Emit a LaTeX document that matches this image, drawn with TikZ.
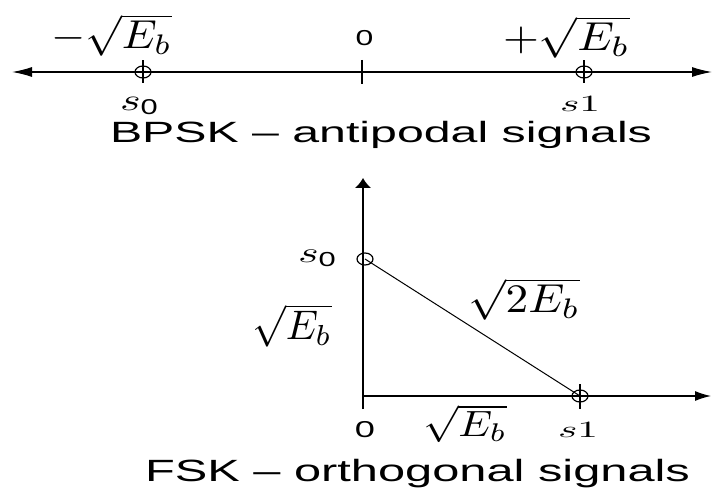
\documentclass[tikz,border=0pt]{standalone}
\usepackage{fontspec}
\setsansfont{Liberation Sans}
\usetikzlibrary{arrows.meta,shapes.geometric}
\newsavebox\lblbox
% name, x, y, width, total height, content (math labels, centred on their ink box)
\newcommand{\fitlabel}[6]{%
  \node[lbl] (#1m) at (#2,#3) {\global\setbox\lblbox\hbox{#6}};%
  \pgfmathsetmacro{\lblsx}{#4/\wd\lblbox}%
  \pgfmathsetmacro{\lblsy}{#5/(\ht\lblbox+\dp\lblbox)}%
  \node[lbl,xscale=\lblsx,yscale=\lblsy,transform shape] (#1) at (#2,#3) {\usebox\lblbox};}
% sans text: name, x (left), baseline y, width, cap height, content
\newcommand{\fitcap}[6]{%
  \node[lbl] (#1m) at (#2,#3) {\global\setbox\lblbox\hbox{#6}};%
  \pgfmathsetmacro{\lblsx}{#4/\wd\lblbox}%
  \pgfmathsetmacro{\lblsy}{#5/7.16}%
  \node[lbl,anchor=base west,xscale=\lblsx,yscale=\lblsy,transform shape] (#1) at (#2,#3) {\usebox\lblbox};}
% sans digit 0: name, centre x, baseline y, ink width, ink height
\newcommand{\fitzero}[5]{%
  \pgfmathsetmacro{\lblsx}{#4/4.7}%
  \pgfmathsetmacro{\lblsy}{#5/7.4}%
  \node[lbl,anchor=base,xscale=\lblsx,yscale=\lblsy,transform shape] (#1) at (#2,#3) {\sffamily 0};}
\begin{document}
\begin{tikzpicture}[x=1pt,y=-1pt,
  lbl/.style={inner sep=0pt,outer sep=0pt},
  haxis/.style={line width=1.3pt},
  vaxis/.style={line width=2pt},
  diag/.style={line width=1pt},
  pt/.style={ellipse,draw,line width=1.2pt,minimum width=16pt,minimum height=12pt,inner sep=0pt},
  tickline/.style={line width=1.6pt}]
\useasboundingbox (0,0) rectangle (715,489);
% ---------- BPSK ----------
\coordinate (L) at (12,72);
\coordinate (R) at (712,72);
\coordinate (Z) at (362,72);
\node[pt] (a0) at (143,72) {};
\node[pt] (a1) at (584,72) {};
\draw[haxis,{Latex[length=20pt,width=10pt]}-{Latex[length=20pt,width=10pt]}] (L) -- (R);
\draw[tickline] (a0.center) ++(0,-11.5) -- ++(0,23);
\draw[tickline] (a1.center) ++(0,-11.5) -- ++(0,23);
\draw[tickline] (Z) ++(0,-12) -- ++(0,24);
\fitlabel{tm}{111.5}{35}{121}{42}{$-\sqrt{E_b}$}
\fitzero{t0}{364.5}{46}{15}{16}
\fitlabel{tp}{566.5}{37}{127}{42}{$+\sqrt{E_b}$}
\fitlabel{ts0}{140}{106}{40}{18}{$s_{\mathsf{0}}$}
\fitlabel{ts1}{580}{104.5}{40}{15}{$s1$}
\fitcap{cap1}{110}{143}{542}{21}{\sffamily BPSK – antipodal signals}
% ---------- FSK ----------
\coordinate (O) at (363,396);
\coordinate (Ob) at (363,409);
\coordinate (T) at (363,178);
\coordinate (Rr) at (711,396);
\node[pt] (b0) at (365,259) {};
\node[pt] (b1) at (580,396) {};
\draw[vaxis,-{Latex[length=10pt,width=17pt]}] (Ob) -- (T);
\draw[haxis,-{Latex[length=16pt,width=10pt]}] (O) -- (Rr);
\draw[diag] (b0.center) -- (b1.center);
\draw[tickline] (b1.center) ++(0,-12) -- ++(0,25);
\fitlabel{ls0}{318}{258.5}{40}{17}{$s_{\mathsf{0}}$}
\fitlabel{l2e}{524}{299}{112}{42}{$\sqrt{2E_b}$}
\fitlabel{lev}{292}{325.5}{80}{43}{$\sqrt{E_b}$}
\fitzero{l0}{365}{437.5}{17}{17}
\fitlabel{leh}{465}{424}{84}{38}{$\sqrt{E_b}$}
\fitlabel{ls1}{578}{429.5}{40}{15}{$s1$}
\fitcap{cap2}{145}{481}{545}{22}{\sffamily FSK – orthogonal signals}
\end{tikzpicture}
\end{document}
